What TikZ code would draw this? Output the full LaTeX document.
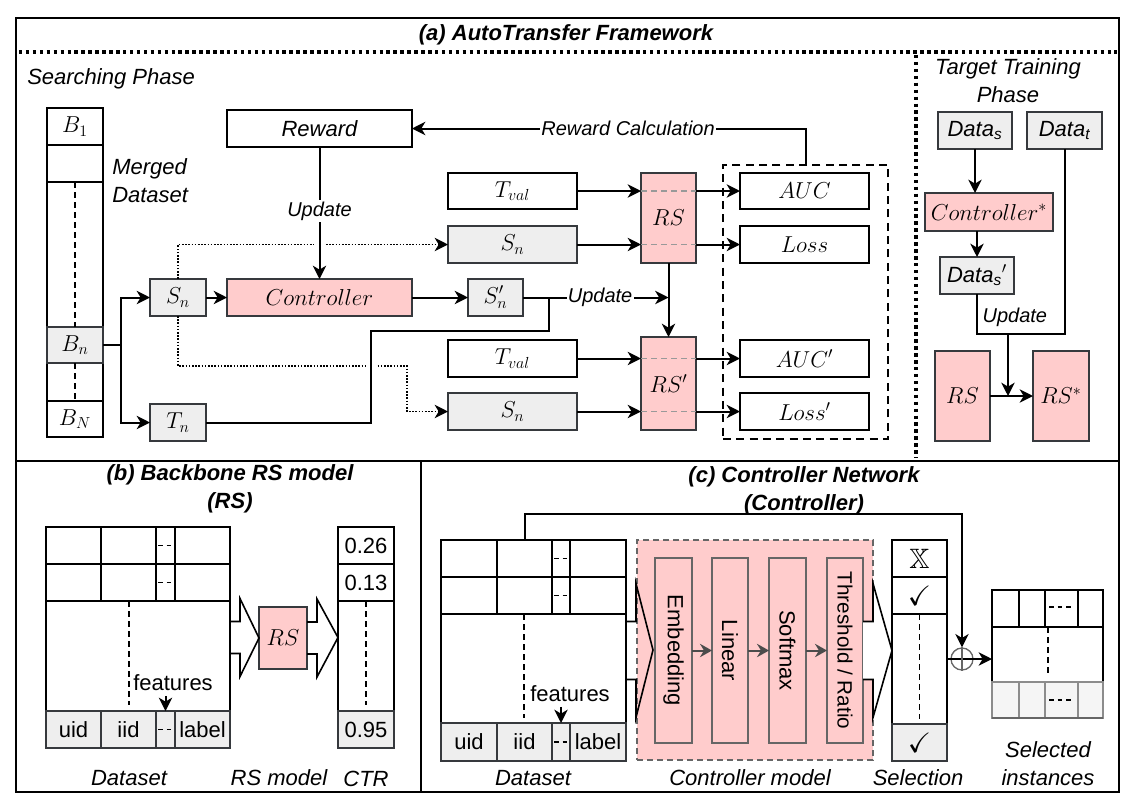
\documentclass[tikz,border=0pt]{standalone}
\usepackage{fontspec}
\setmainfont{Liberation Sans}
\usepackage{amsmath}
\usepackage{amssymb}
\usepackage{xcolor}
\usepackage{tikz}
\usetikzlibrary{calc}
\usetikzlibrary{arrows.meta}
\usetikzlibrary{positioning}

\definecolor{pinkfill}{HTML}{FFCCCC}
\definecolor{grayfill}{HTML}{EEEEEE}
\definecolor{lightfill}{HTML}{F5F5F5}
\definecolor{edge}{HTML}{36393D}

% block arrow: [options]{from}{to}{shaft length}{shaft half}{head half}
\newcommand{\blockarrow}[6][]{%
  \draw[bigarrow, #1] ($(#2)+(0,-#5)$) -- ($(#2)+(#4,-#5)$) -- ($(#2)+(#4,-#6)$)
    -- (#3) -- ($(#2)+(#4,#6)$) -- ($(#2)+(#4,#5)$) -- ($(#2)+(0,#5)$);}

\begin{document}
\begin{tikzpicture}[x=0.75pt, y=-0.75pt, font=\fontsize{17}{20}\selectfont,
  wh/.style 2 args={minimum width=#1*0.75pt, minimum height=#2*0.75pt},
  base/.style={line width=1.5pt, inner sep=0pt, outer sep=0pt},
  box/.style={base, draw=black, fill=white},
  graybox/.style={base, draw=edge, fill=grayfill},
  pinkbox/.style={base, draw=edge, fill=pinkfill},
  layerbox/.style={base, draw=black!60, fill=pinkfill},
  txt/.style={font=\fontsize{16.5}{21}\selectfont\itshape, align=center, inner sep=0pt},
  upr/.style={font=\fontsize{16.5}{20}\selectfont},
  ttl/.style={font=\fontsize{16.5}{21}\selectfont\bfseries\itshape, align=center},
  lbl/.style={font=\fontsize{15}{18}\selectfont\itshape, fill=white, inner sep=1pt},
  wire/.style={line width=1.5pt},
  conn/.style={wire, ->},
  dots/.style={line width=1.2pt, dash pattern=on 1.2pt off 1.2pt},
  sepline/.style={line width=2.6pt, dash pattern=on 2.6pt off 2.6pt},
  cutline/.style={line width=1.2pt, dash pattern=on 4.5pt off 3pt},
  grpline/.style={line width=1.2pt, dash pattern=on 6pt off 4pt},
  cellgap/.style={line width=1.2pt, dash pattern=on 3.5pt off 3pt},
  bigarrow/.style={line width=1.2pt, line join=miter},
  >={Stealth[length=10pt, width=10pt, inset=3pt]}]

  \useasboundingbox (0,0) rectangle (1132,804);

  % frames
  \draw[wire] (16,18) rectangle (1119,792);
  \draw[wire] (16,461) -- (1119,461);
  \draw[wire] (421,461) -- (421,792);
  \draw[sepline] (19,52) -- (1117,52);
  \draw[sepline] (916,55) -- (916,458);

  \node[ttl] (titleA) at (566,35) {(a) AutoTransfer Framework};
  \node[ttl] (titleB) at (230,489) {(b) Backbone RS model\\(RS)};
  \node[ttl] (titleC) at (804,491) {(c) Controller Network\\(Controller)};
  \node[txt, anchor=west] (search) at (27,79) {Searching Phase};
  \node[txt] (target) at (1008,81) {Target Training\\Phase};

  % merged dataset
  \draw[wire] (47,108) rectangle (103,437);
  \node[box, wh={56}{37}] (b1) at (75,126.5) {$B_1$};
  \node[box, wh={56}{37}] (b2) at (75,163.5) {};
  \node[graybox, wh={56}{36}] (bn) at (75,345) {$B_n$};
  \node[box, wh={56}{36}] (bN) at (75,419) {$B_N$};
  \draw[cutline] (b2.south) -- (bn.north);
  \draw[cutline] (bn.south) -- (bN.north);
  \node[txt, align=left, anchor=west] (merged) at (112,181) {Merged\\Dataset};

  % searching phase
  \node[box, txt, wh={185}{37}] (reward) at (319.5,128.5) {Reward};
  \node[pinkbox, wh={185}{37}] (ctrl) at (319.5,297.5) {$Controller$};
  \node[graybox, wh={56}{37}] (sn1) at (178,297.5) {$S_n$};
  \node[graybox, wh={56}{37}] (tn) at (178,422.5) {$T_n$};
  \node[graybox, wh={55}{37}] (snp) at (495.5,297.5) {$S_n^{\prime}$};
  \node[box, wh={129}{36}] (tval1) at (512.5,191) {$T_{val}$};
  \node[graybox, wh={129}{37}] (sn2) at (512.5,244.5) {$S_n$};
  \node[box, wh={129}{37}] (tval2) at (512.5,358.5) {$T_{val}$};
  \node[graybox, wh={129}{37}] (sn3) at (512.5,411.5) {$S_n$};
  \node[pinkbox, wh={55}{90}] (rs1) at (668.5,218) {$RS$};
  \node[pinkbox, wh={55}{93}] (rs2) at (668.5,383.5) {$RS'$};
  \node[draw, grpline, inner sep=0pt, wh={165}{274}] (grp) at (805.5,302) {};
  \node[box, wh={129}{36}] (auc) at (804.5,191) {$AUC$};
  \node[box, wh={129}{37}] (loss) at (804.5,244.5) {$Loss$};
  \node[box, wh={129}{37}] (aucp) at (804.5,358.5) {$AUC'$};
  \node[box, wh={129}{37}] (lossp) at (804.5,411.5) {$Loss'$};

  \foreach \src/\dst in {tval1/rs1, sn2/rs1, tval2/rs2, sn3/rs2}
    \draw[gray!80, cutline] (\src.east -| \dst.west) -- (\src.east -| \dst.east);

  \coordinate (dotturn) at (407,366);
  \coordinate (tnup) at (371,331);
  \coordinate (tnjoin) at (549,297.5);
  \coordinate (rsjoin) at (rs1.south |- snp.east);

  \draw[dots, ->] (sn1.north) |- (sn2.west);
  \draw[dots, ->] (sn1.south) |- (dotturn) |- (sn3.west);
  \draw[white, line width=8pt] ($(reward.south |- sn2.west)+(0,-3)$) -- ++(0,6);
  \draw[white, line width=7pt] ($(tnup |- dotturn)+(0,-3)$) -- ++(0,6);

  \draw[conn] (reward.south) -- node[lbl, pos=0.485] (upd1) {Update} (ctrl.north);
  \draw[conn] (grp.north) |- node[lbl, pos=0.7255] (rcalc) {Reward Calculation} (reward.east);
  \draw[conn] (bn.east) -- ++(18,0) coordinate (split) |- (sn1.west);
  \draw[conn] (split) |- (tn.west);
  \draw[conn] (sn1.east) -- (ctrl.west);
  \draw[conn] (ctrl.east) -- (snp.west);
  \draw[wire] (tn.east) -| (tnup) -| (tnjoin);
  \draw[conn] (snp.east) -- node[lbl, pos=0.53] (upd2) {Update} (rsjoin);
  \draw[conn] (rs1.south) -- (rs2.north);
  \foreach \src/\dst in {tval1/rs1, sn2/rs1, tval2/rs2, sn3/rs2}
    \draw[conn] (\src.east) -- (\src.east -| \dst.west);
  \foreach \src/\dst in {rs1/auc, rs1/loss, rs2/aucp, rs2/lossp}
    \draw[conn] (\dst.west -| \src.east) -- (\dst.west);

  % target training phase
  \node[graybox, txt, wh={74}{37}] (datas) at (975,130.5) {Data$_{\textit{s}}$};
  \node[graybox, txt, wh={75}{37}] (datat) at (1064.5,130.5) {Data$_{\textit{t}}$};
  \node[pinkbox, wh={128}{38}] (ctrls) at (989,212) {$Controller^*$};
  \node[graybox, txt, wh={74}{37}] (datasp) at (977,275.5) {Data$_{\textit{s}}{}'$};
  \node[pinkbox, wh={55}{90}] (rst) at (962.5,396) {$RS$};
  \node[pinkbox, wh={56}{90}] (rss) at (1061,396) {$RS^*$};
  \coordinate (updjoin) at (1008,334);
  \draw[conn] (datas.south) -- (datas.south |- ctrls.north);
  \draw[conn] (datasp.north |- ctrls.south) -- (datasp.north);
  \draw[wire] (datasp.south) |- (updjoin) -| (datat.south);
  \node[lbl, fill=none, anchor=west] (upd3) at (981,317) {Update};
  \draw[conn] (rst.east) -- (rss.west);
  \draw[conn] (updjoin) -- (updjoin |- rst.east);

  % (b) backbone
  \node[box, wh={184}{221}] (tabB) at (138,637.5) {};
  \foreach \y in {564,601} \draw[wire] (46,\y) -- (230,\y);
  \foreach \x in {101,156,175} \draw[wire] (\x,527) -- (\x,601);
  \foreach \y in {545.5,582.5} \draw[cellgap] (158,\y) -- (173,\y);
  \draw[cutline] (129,601) -- (129,705);
  \node[graybox, upr, wh={55}{37}] (uidB) at (73.5,729.5) {uid};
  \node[graybox, upr, wh={55}{37}] (iidB) at (128.5,729.5) {iid};
  \node[graybox, wh={19}{37}] (gapB) at (165.5,729.5) {};
  \node[graybox, upr, wh={55}{37}] (labB) at (202.5,729.5) {label};
  \draw[cellgap] (158,729.5) -- (173,729.5);
  \node[upr] (featB) at (173,683) {features};
  \draw[conn] (gapB.north |- featB.south) -- (gapB.north);
  \node[pinkbox, wh={48}{62}] (rsB) at (283,638) {$RS$};
  \node[box, wh={56}{221}] (ctr) at (366,637.5) {};
  \node[box, upr, wh={56}{37}] (ctr1) at (366,545.5) {0.26};
  \node[box, upr, wh={56}{37}] (ctr2) at (366,582.5) {0.13};
  \node[graybox, upr, wh={56}{37}] (ctr3) at (366,729.5) {0.95};
  \draw[cutline] (ctr2.south) -- ++(0,104);
  \blockarrow{tabB.east}{rsB.west}{10}{16}{39}
  \blockarrow{rsB.east}{ctr.west}{10}{16}{39}
  \node[txt] (dsB) at (129,778) {Dataset};
  \node[txt] (rsmB) at (279,778) {RS model};
  \node[txt] (ctrB) at (366,779) {CTR};

  % (c) controller network
  \node[box, wh={185}{221}] (tabC) at (533.5,650.5) {};
  \foreach \y in {577,614} \draw[wire] (441,\y) -- (626,\y);
  \foreach \x in {497,552,570} \draw[wire] (\x,540) -- (\x,614);
  \foreach \y in {558.5,595.5} \draw[cellgap] (554,\y) -- (568,\y);
  \draw[cutline] (524,614) -- (524,718);
  \node[graybox, upr, wh={56}{38}] (uidC) at (469,742) {uid};
  \node[graybox, upr, wh={55}{38}] (iidC) at (524.5,742) {iid};
  \node[graybox, wh={18}{38}] (gapC) at (561,742) {};
  \node[graybox, upr, wh={56}{38}] (labC) at (598,742) {label};
  \draw[cellgap] (554,742) -- (568,742);
  \node[upr] (featC) at (570,694) {features};
  \draw[conn] (gapC.north |- featC.south) -- (gapC.north);

  \node[base, draw=black!60, dash pattern=on 4.5pt off 3pt, fill=pinkfill, wh={236}{220}] (model) at (755,650) {};
  \blockarrow{tabC.east}{model.west -| 653,0}{10}{29}{67}
  \node[layerbox, upr, wh={37}{185}] (emb) at (673.5,650.5) {\rotatebox{-90}{Embedding}};
  \node[layerbox, upr, wh={36}{185}] (lin) at (730,650.5) {\rotatebox{-90}{Linear}};
  \node[layerbox, upr, wh={37}{185}] (soft) at (787.5,650.5) {\rotatebox{-90}{Softmax}};
  \node[layerbox, font=\fontsize{15.5}{18}\selectfont, wh={36}{185}] (thr) at (845,650.5) {\rotatebox{-90}{Threshold / Ratio}};
  \foreach \a/\b in {emb/lin, lin/soft, soft/thr}
    \draw[wire, draw=black!70, -{Stealth[length=9pt, width=10pt, inset=3pt]}] (\a.east) -- (\b.west);

  \node[box, wh={55}{221}] (sel) at (919.5,650.5) {};
  \node[box, font=\fontsize{21}{24}\selectfont, wh={55}{37}] (selx) at (919.5,558.5) {$\mathbb{X}$};
  \node[box, font=\fontsize{21}{24}\selectfont, wh={55}{37}] (selv) at (919.5,595.5) {$\checkmark$};
  \node[graybox, font=\fontsize{21}{24}\selectfont, wh={55}{37}] (selw) at (919.5,742.5) {$\checkmark$};
  \draw[cutline] (selv.south) -- ++(0,105);
  \blockarrow[fill=white]{thr.east}{sel.west}{10}{29}{67}

  \node[box, wh={111}{92}] (inst) at (1047.5,636) {};
  \draw[wire] (992,627) -- (1103,627);
  \foreach \x in {1019,1045,1078} \draw[wire] (\x,590) -- (\x,627);
  \draw[cellgap] (1049,607) -- (1075,607);
  \draw[cutline] (1048,627) -- (1048,677);
  \foreach \x/\w [count=\i] in {1005.5/27, 1032/26, 1061.5/33, 1090.5/25}
    \node[base, line width=1.2pt, draw=black!45, fill=lightfill, wh={\w}{36}] (row\i) at (\x,700) {};
  \draw[cellgap] (1049,700) -- (1075,700);
  \draw[line width=1.5pt, black!60] (row1.south west) -- (row4.south east);

  \node[circle, draw=black!60, line width=1pt, minimum size=22*0.75pt, inner sep=0pt] (plus) at (962,659) {};
  \draw[conn] (iidC.north |- tabC.north) -- ++(0,-26) -| (plus.north);
  \draw[conn] (sel.east |- plus) -- (inst.west |- plus);
  \draw[black!60, line width=1pt] (plus.north) -- (plus.south);

  \node[txt] (dsC) at (533,778) {Dataset};
  \node[txt] (cmC) at (750,778) {Controller model};
  \node[txt] (selC) at (918,778) {Selection};
  \node[txt] (instC) at (1048,764) {Selected\\instances};
\end{tikzpicture}
\end{document}
